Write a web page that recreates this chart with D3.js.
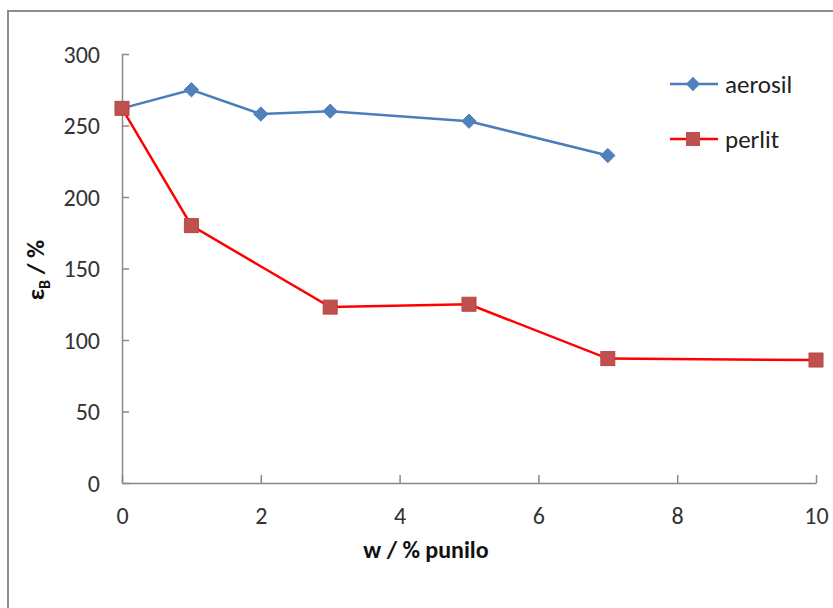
<!DOCTYPE html>
<html><head><meta charset="utf-8">
<script src="https://cdn.jsdelivr.net/npm/d3@7"></script>
<style>body{margin:0;background:#fff}svg{display:block}</style>
</head><body><svg id="c" width="833" height="608"></svg>
<script>
const xValsAerosil = [0, 1, 2, 3, 5, 7];
const aerosil = [262, 275, 258, 260, 253, 229];
const xValsPerlit = [0, 1, 3, 5, 7, 10];
const perlit = [262, 180, 123, 125, 87, 86];
const xTicks = [0, 2, 4, 6, 8, 10];
const yTicks = [0, 50, 100, 150, 200, 250, 300];
const seriesNames = ["aerosil", "perlit"];

const svg = d3.select("#c");
const font = "Carlito, 'Liberation Sans', 'Open Sans', sans-serif";
svg.append("rect").attr("x", 8).attr("y", 11).attr("width", 840).attr("height", 620)
  .attr("fill", "#fff").attr("stroke", "#8c8c8c").attr("stroke-width", 2);

const x = d3.scaleLinear().domain([0, 10]).range([122, 816]);
const y = d3.scaleLinear().domain([0, 300]).range([483, 54]);
const axisColor = "#898989";

const gx = svg.append("g").attr("transform", "translate(0,483)")
  .call(d3.axisBottom(x).tickValues(xTicks).tickSizeInner(-8).tickSizeOuter(0).tickPadding(24));
const gy = svg.append("g").attr("transform", "translate(122,0)")
  .call(d3.axisLeft(y).tickValues(yTicks).tickSizeInner(-7).tickSizeOuter(0).tickPadding(22));
[gx, gy].forEach(g => {
  g.select(".domain").attr("stroke", axisColor).attr("stroke-width", 1.5);
  g.selectAll(".tick line").attr("stroke", axisColor).attr("stroke-width", 1.5);
  g.selectAll(".tick text").attr("fill", "#333").style("font-family", font).style("font-size", "24px");
});
gy.selectAll(".tick text").attr("dy", "0.35em");

const line = d3.line().x(d => x(d[0])).y(d => y(d[1]));
const dataA = xValsAerosil.map((v, i) => [v, aerosil[i]]);
const dataP = xValsPerlit.map((v, i) => [v, perlit[i]]);

svg.append("path").datum(dataA).attr("d", line).attr("fill", "none")
  .attr("stroke", "#4A7EBB").attr("stroke-width", 2.5);
svg.selectAll(".dA").data(dataA).enter().append("path")
  .attr("d", d3.symbol(d3.symbolDiamond2, 130)())
  .attr("transform", d => `translate(${x(d[0])},${y(d[1])})`)
  .attr("fill", "#4F81BD").attr("stroke", "#4A7EBB").attr("stroke-width", 1);

svg.append("path").datum(dataP).attr("d", line).attr("fill", "none")
  .attr("stroke", "#FF0000").attr("stroke-width", 2.5);
svg.selectAll(".dP").data(dataP).enter().append("rect")
  .attr("x", d => x(d[0]) - 7).attr("y", d => y(d[1]) - 7)
  .attr("width", 14).attr("height", 14)
  .attr("fill", "#C0504D").attr("stroke", "#B84744").attr("stroke-width", 1);

const legY = [84, 139];
const legCol = [["#4A7EBB", "#4F81BD"], ["#FF0000", "#C0504D"]];
seriesNames.forEach((n, i) => {
  const g = svg.append("g");
  g.append("line").attr("x1", 670).attr("x2", 718).attr("y1", legY[i]).attr("y2", legY[i])
    .attr("stroke", legCol[i][0]).attr("stroke-width", 2.5);
  if (i === 0) {
    g.append("path").attr("d", d3.symbol(d3.symbolDiamond2, 130)())
      .attr("transform", `translate(693,${legY[i]})`).attr("fill", legCol[i][1]);
  } else {
    g.append("rect").attr("x", 686).attr("y", legY[i] - 7).attr("width", 14).attr("height", 14)
      .attr("fill", legCol[i][1]);
  }
  g.append("text").attr("x", 725).attr("y", legY[i]).attr("dy", "0.35em")
    .style("font-family", font).style("font-size", "25px").attr("fill", "#222").text(n);
});

svg.append("text").attr("x", 426).attr("y", 550).attr("dy", "0.35em").attr("text-anchor", "middle")
  .style("font-family", font).style("font-size", "24px").style("font-weight", "bold").attr("fill", "#111")
  .text("w / % punilo");
const yt = svg.append("text").attr("transform", "translate(44,270) rotate(-90)")
  .attr("text-anchor", "middle").style("font-family", font).style("font-size", "25px")
  .style("font-weight", "bold").attr("fill", "#111");
yt.append("tspan").text("ε");
yt.append("tspan").attr("dy", 6).style("font-size", "16px").text("B");
yt.append("tspan").attr("dy", -6).text(" / %");
</script></body></html>
